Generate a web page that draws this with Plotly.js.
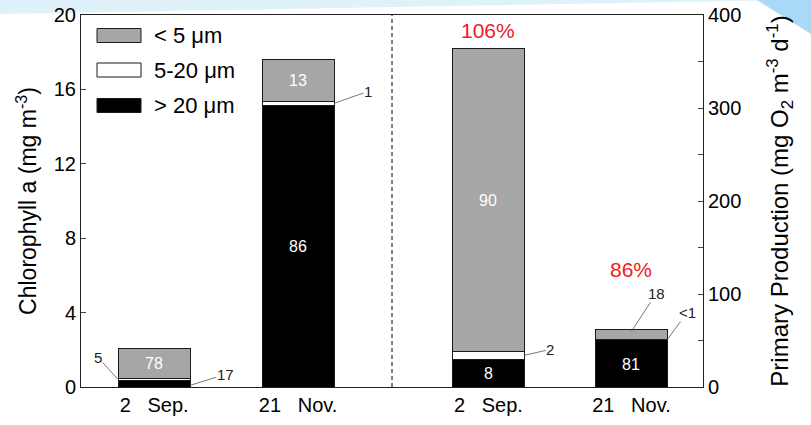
<!DOCTYPE html>
<html>
<head>
<meta charset="utf-8">
<script src="https://cdn.plot.ly/plotly-3.0.1.min.js"></script>
<style>html,body{margin:0;padding:0;background:#fff;}#chart{width:811px;height:425px;}</style>
</head>
<body>
<div id="chart"></div>
<script>
// ---- data ----
const categories = ["2\u00a0\u00a0\u00a0Sep.", "21\u00a0\u00a0\u00a0Nov."];
const sizeClasses = ["< 5 \u03bcm", "5-20 \u03bcm", "> 20 \u03bcm"];
// Chlorophyll a (mg m-3)
const chlGt20 = [0.35, 15.16];
const chl5to20 = [0.10, 0.18];
const chlLt5 = [1.60, 2.28];
// Primary production (mg O2 m-3 d-1)
const ppGt20 = [30, 51];
const pp5to20 = [8, 0.5];
const ppLt5 = [326, 10.5];
// percentage labels
const chlPctGt20 = ["17", "86"];
const chlPct5to20 = ["5", "1"];
const chlPctLt5 = ["78", "13"];
const ppPctGt20 = ["8", "81"];
const ppPct5to20 = ["2", "<1"];
const ppPctLt5 = ["90", "18"];
const ppRatio = ["106%", "86%"];

// ---- layout helpers ----
const L = 81, R = 703, T = 15, B = 387;
const px = x => (x - L) / (R - L);
const py = y => (B - y) / (B - T);
const FONT = "Liberation Sans, Arial, sans-serif";
const GRAY = "#a6a6a6";
const barLine = {color: "#1a1a1a", width: 1};
const W = 0.5;

function seg(xa, ya, y, color) {
  return {
    type: "bar", x: categories, y: y, xaxis: xa, yaxis: ya, width: W,
    marker: {color: color, line: barLine},
    hoverinfo: "y", showlegend: false
  };
}

const traces = [
  seg("x", "y", chlGt20, "#000000"),
  seg("x", "y", chl5to20, "#ffffff"),
  seg("x", "y", chlLt5, GRAY),
  seg("x2", "y2", ppGt20, "#000000"),
  seg("x2", "y2", pp5to20, "#ffffff"),
  seg("x2", "y2", ppLt5, GRAY)
];

const annotations = [];
// labels inside segments
function inside(xa, ya, i, base, val, text) {
  annotations.push({xref: xa, yref: ya, x: i, y: base + val / 2, text: text,
    showarrow: false, font: {family: FONT, size: 16, color: "#ffffff"}});
}
inside("x", "y", 0, chlGt20[0] + chl5to20[0], chlLt5[0], chlPctLt5[0]);
inside("x", "y", 1, chlGt20[1] + chl5to20[1], chlLt5[1], chlPctLt5[1]);
inside("x", "y", 1, 0, chlGt20[1], chlPctGt20[1]);
inside("x2", "y2", 0, ppGt20[0] + pp5to20[0], ppLt5[0], ppPctLt5[0]);
inside("x2", "y2", 0, 0, ppGt20[0], ppPctGt20[0]);
inside("x2", "y2", 1, 0, ppGt20[1] * 0.93, ppPctGt20[1]);

function leader(xa, ya, x, y, text, ax, ay) {
  annotations.push({xref: xa, yref: ya, x: x, y: y, text: text, showarrow: true,
    arrowhead: 0, arrowwidth: 0.8, arrowcolor: "#555", ax: ax, ay: ay,
    font: {family: FONT, size: 15, color: "#222"}, borderpad: 0});
}
leader("x", "y", -W / 2, chlGt20[0] + chl5to20[0] / 2, chlPct5to20[0], -20, -22);
leader("x", "y", W / 2, chlGt20[0] / 4, chlPctGt20[0], 35, -11);
leader("x", "y", 1 + W / 2, chlGt20[1] + chl5to20[1] / 2, chlPct5to20[1], 34, -12);
leader("x2", "y2", W / 2, ppGt20[0] + pp5to20[0] / 2, ppPct5to20[0], 26, -6);
leader("x2", "y2", 1, ppGt20[1] + pp5to20[1] + ppLt5[1] * 0.8, ppPctLt5[1], 25, -38);
leader("x2", "y2", 1 + W / 2, ppGt20[1], ppPct5to20[1], 20, -27);

const tops = [ppGt20[0] + pp5to20[0] + ppLt5[0], ppGt20[1] + pp5to20[1] + ppLt5[1]];
const ratioShift = [18, 60];
ppRatio.forEach((t, i) => annotations.push({
  xref: "x2", yref: "y2", x: i, y: tops[i], yshift: ratioShift[i], text: t, showarrow: false,
  font: {family: FONT, size: 21, color: "#ee1c25"}
}));

// custom legend
const legColors = [GRAY, "#ffffff", "#000000"];
const legY = [35.5, 70, 105.5];
const shapes = [];
// slide decorations
shapes.push({type: "path", xref: "paper", yref: "paper", layer: "below",
  path: `M ${px(0)} ${py(0)} L ${px(790)} ${py(0)} L ${px(0)} ${py(14)} Z`,
  fillcolor: "#dff2fa", line: {width: 0}});
shapes.push({type: "path", xref: "paper", yref: "paper", layer: "below",
  path: `M ${px(757)} ${py(0)} L ${px(811)} ${py(0)} L ${px(811)} ${py(34)} Z`,
  fillcolor: "#a9d9f6", line: {width: 0}});
// dashed divider
shapes.push({type: "line", xref: "paper", yref: "paper", x0: 0.5, x1: 0.5, y0: 0, y1: 1,
  line: {color: "#000", width: 1, dash: "4px,3px"}});
sizeClasses.forEach((s, i) => {
  shapes.push({type: "rect", xref: "paper", yref: "paper",
    x0: px(97), x1: px(141), y0: py(legY[i] + 7), y1: py(legY[i] - 7),
    fillcolor: legColors[i], line: {color: "#1a1a1a", width: 1}});
  annotations.push({xref: "paper", yref: "paper", x: px(152), y: py(legY[i]),
    xanchor: "left", yanchor: "middle", text: s, showarrow: false,
    font: {family: FONT, size: 22, color: "#000"}});
});

const axisCommon = {showline: true, linecolor: "#222", linewidth: 1, showgrid: false,
  zeroline: false, tickfont: {family: FONT, size: 20, color: "#000"}};

const layout = {
  width: 811, height: 425,
  margin: {l: L, r: 811 - R, t: T, b: 425 - B, pad: 0},
  paper_bgcolor: "#ffffff", plot_bgcolor: "#ffffff",
  barmode: "stack", showlegend: false,
  xaxis: Object.assign({}, axisCommon, {domain: [0, 0.5], type: "category",
    range: [-0.508, 1.652], ticks: "", mirror: true, anchor: "y", fixedrange: true}),
  xaxis2: Object.assign({}, axisCommon, {domain: [0.5, 1], type: "category",
    range: [-0.674, 1.50], ticks: "", mirror: true, anchor: "y2", fixedrange: true}),
  yaxis: Object.assign({}, axisCommon, {range: [0, 20], dtick: 4, tick0: 0,
    ticks: "inside", ticklen: 5, tickcolor: "#444", anchor: "x", automargin: false,
    title: {text: "Chlorophyll a (mg m<sup>-3</sup>)", standoff: 10,
      font: {family: FONT, size: 23, color: "#000"}}}),
  yaxis2: Object.assign({}, axisCommon, {range: [0, 400], dtick: 100, tick0: 0,
    overlaying: "y", side: "right", anchor: "x2",
    ticks: "inside", ticklen: 5, tickcolor: "#444", automargin: false,
    minor: {dtick: 50, ticks: "inside", ticklen: 5, tickcolor: "#444"},
    title: {text: "Primary Production (mg O<sub>2</sub> m<sup>-3</sup> d<sup>-1</sup>)", standoff: 30,
      font: {family: FONT, size: 24, color: "#000"}}}),
  shapes: shapes,
  annotations: annotations
};

Plotly.newPlot("chart", traces, layout, {staticPlot: true, displayModeBar: false});
</script>
</body>
</html>
